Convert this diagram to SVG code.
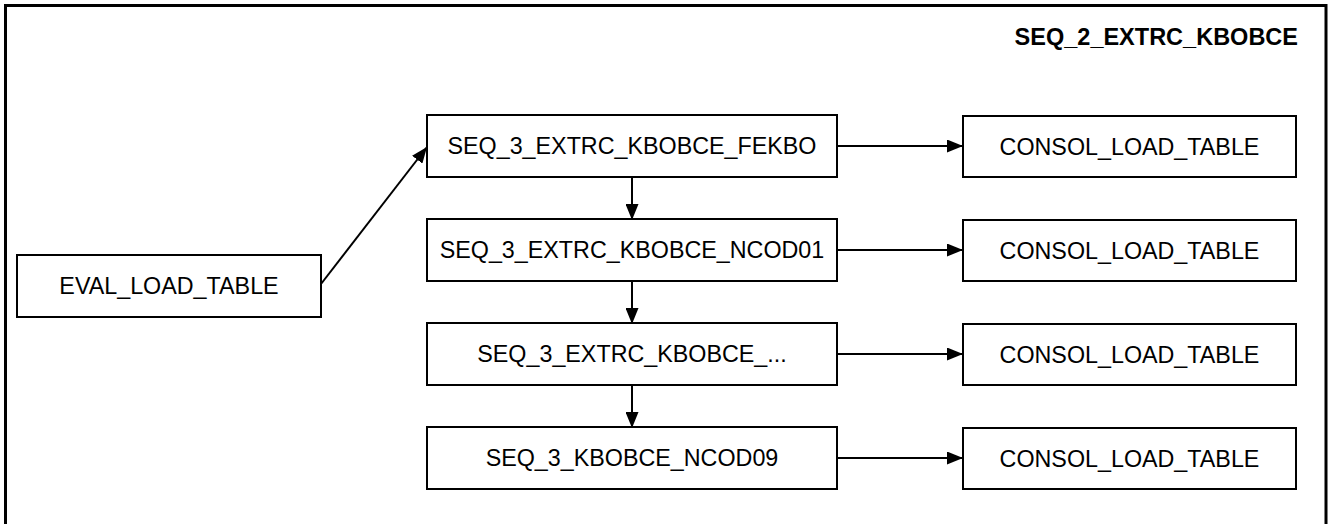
<svg xmlns="http://www.w3.org/2000/svg" width="1332" height="524" viewBox="0 0 1332 524">
<style>
.box{fill:#fff;stroke:#000;stroke-width:2}
.t{font-family:"Liberation Sans",Arial,sans-serif;font-size:23.3px;fill:#000;text-anchor:middle}
.title{font-family:"Liberation Sans",Arial,sans-serif;font-size:23.5px;font-weight:bold;fill:#000;text-anchor:end}
.c{stroke:#000;stroke-width:2;fill:none;marker-end:url(#ah)}
</style>
<defs>
<marker id="ah" markerWidth="16" markerHeight="13" refX="16" refY="6.5" orient="auto" markerUnits="userSpaceOnUse">
<path d="M0,0 L16,6.5 L0,13 Z" fill="#000"/>
</marker>
</defs>
<rect x="0" y="0" width="1332" height="524" fill="#fff"/>
<g id="frame">
<rect x="5.5" y="5.5" width="1320.5" height="530" fill="none" stroke="#000" stroke-width="3"/>
<text class="title" x="1298" y="45">SEQ_2_EXTRC_KBOBCE</text>
</g>
<g id="connectors">
<line class="c" x1="321" y1="284" x2="427" y2="147"/>
<line class="c" x1="632" y1="177" x2="632" y2="220"/>
<line class="c" x1="632" y1="281" x2="632" y2="324"/>
<line class="c" x1="632" y1="385" x2="632" y2="428"/>
<line class="c" x1="837" y1="146" x2="963" y2="146"/>
<line class="c" x1="837" y1="250" x2="963" y2="250"/>
<line class="c" x1="837" y1="354" x2="963" y2="354"/>
<line class="c" x1="837" y1="458" x2="963" y2="458"/>
</g>
<g id="eval">
<rect class="box" x="17" y="255" width="304" height="62"/>
<text class="t" x="169" y="294">EVAL_LOAD_TABLE</text>
</g>
<g id="seq3_fekbo">
<rect class="box" x="427" y="115" width="410" height="62"/>
<text class="t" x="632" y="154">SEQ_3_EXTRC_KBOBCE_FEKBO</text>
</g>
<g id="seq3_ncod01">
<rect class="box" x="427" y="219" width="410" height="62"/>
<text class="t" x="632" y="258">SEQ_3_EXTRC_KBOBCE_NCOD01</text>
</g>
<g id="seq3_dots">
<rect class="box" x="427" y="323" width="410" height="62"/>
<text class="t" x="632" y="362">SEQ_3_EXTRC_KBOBCE_...</text>
</g>
<g id="seq3_ncod09">
<rect class="box" x="427" y="427" width="410" height="62"/>
<text class="t" x="632" y="466">SEQ_3_KBOBCE_NCOD09</text>
</g>
<g id="consol1">
<rect class="box" x="963" y="116" width="333" height="61"/>
<text class="t" x="1129.5" y="155">CONSOL_LOAD_TABLE</text>
</g>
<g id="consol2">
<rect class="box" x="963" y="220" width="333" height="61"/>
<text class="t" x="1129.5" y="259">CONSOL_LOAD_TABLE</text>
</g>
<g id="consol3">
<rect class="box" x="963" y="324" width="333" height="61"/>
<text class="t" x="1129.5" y="363">CONSOL_LOAD_TABLE</text>
</g>
<g id="consol4">
<rect class="box" x="963" y="428" width="333" height="61"/>
<text class="t" x="1129.5" y="467">CONSOL_LOAD_TABLE</text>
</g>
</svg>
